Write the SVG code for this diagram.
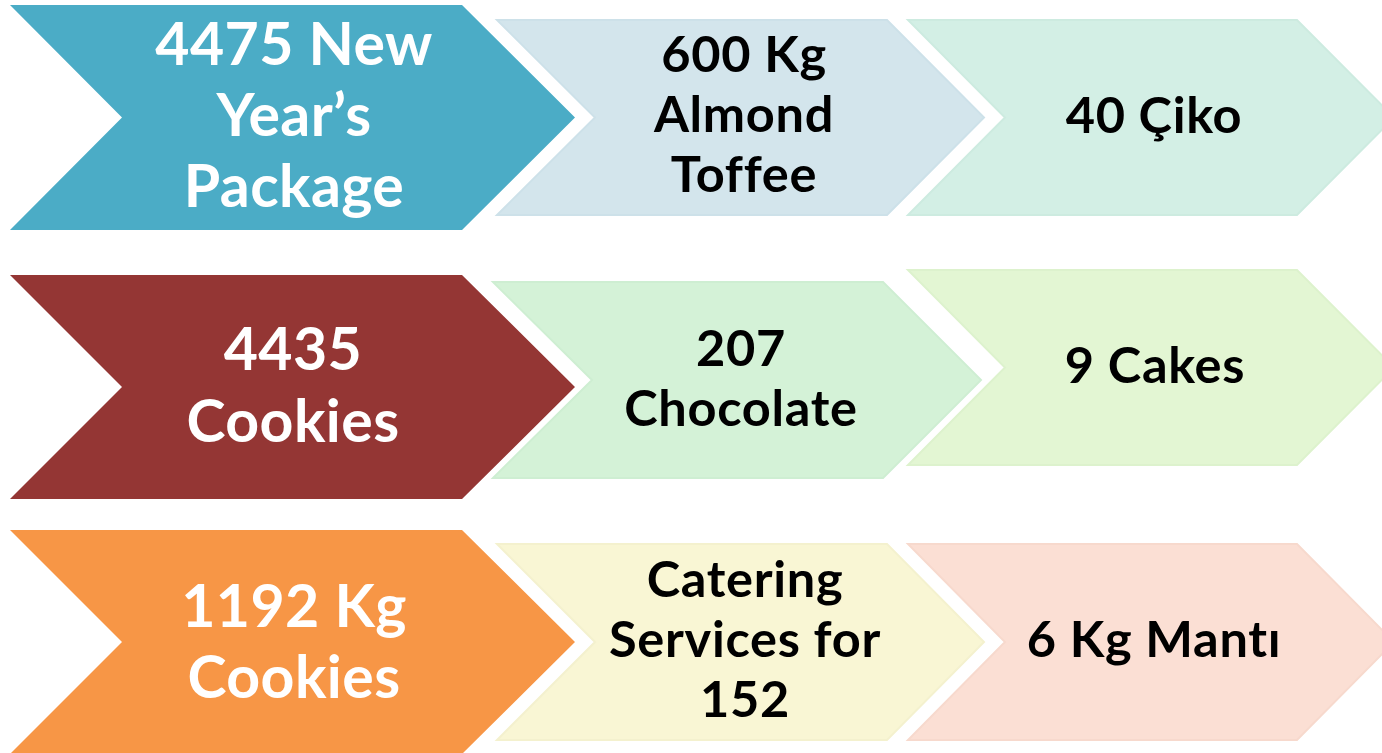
<svg xmlns="http://www.w3.org/2000/svg" width="1382" height="753" viewBox="0 0 1382 753">
<style>
.w{font-family:Lato,"Open Sans","Liberation Sans",sans-serif;font-weight:bold;font-size:59px;letter-spacing:0.4px;fill:#ffffff;text-anchor:middle}
.b{font-family:Lato,"Open Sans","Liberation Sans",sans-serif;font-weight:bold;font-size:50.5px;letter-spacing:0.7px;fill:#000000;text-anchor:middle}
.lt{stroke-width:2;stroke-linejoin:miter}
</style>
<rect width="1382" height="753" fill="#ffffff"/>
<g id="connectors"/>
<g id="n1a"><polygon points="10,5 462,5 575,117.5 462,230 10,230 122,117.5" fill="#4BACC6"/>
<text class="w" x="294" y="65">4475 New</text><text class="w" x="294" y="136">Year’s</text><text class="w" x="294" y="207">Package</text></g>
<g id="n1b"><polygon class="lt" points="497,20 887,20 984,117.5 887,215 497,215 595,117.5" fill="#D3E5EC" stroke="#CDE1E9"/>
<text class="b" x="744" y="72">600 Kg</text><text class="b" x="744" y="132">Almond</text><text class="b" x="744" y="192">Toffee</text></g>
<g id="n1c"><polygon class="lt" points="908,20 1297,20 1394,117.5 1297,215 908,215 1005,117.5" fill="#D3EFE5" stroke="#CDEBE0"/>
<text class="b" x="1154" y="133">40 Çiko</text></g>
<g id="n2a"><polygon points="10,275 462,275 575,387 462,499 10,499 122,387" fill="#943634"/>
<text class="w" x="293" y="370">4435</text><text class="w" x="293" y="442">Cookies</text></g>
<g id="n2b"><polygon class="lt" points="493,282 883,282 981,380 883,478 493,478 592,380" fill="#D4F2D7" stroke="#CEEED2"/>
<text class="b" x="741" y="366">207</text><text class="b" x="741" y="426">Chocolate</text></g>
<g id="n2c"><polygon class="lt" points="908,270 1297,270 1394,367.5 1297,465 908,465 1005,367.5" fill="#E3F6D3" stroke="#DDF2CD"/>
<text class="b" x="1155" y="383">9 Cakes</text></g>
<g id="n3a"><polygon points="10,530 462,530 575,642 462,754 10,754 122,642" fill="#F79646"/>
<text class="w" x="294" y="627">1192 Kg</text><text class="w" x="294" y="698">Cookies</text></g>
<g id="n3b"><polygon class="lt" points="497,544 887,544 984,642 887,740 497,740 595,642" fill="#F9F6D4" stroke="#F4F1CE"/>
<text class="b" x="745" y="597">Catering</text><text class="b" x="745" y="657">Services for</text><text class="b" x="745" y="717">152</text></g>
<g id="n3c"><polygon class="lt" points="908,544 1297,544 1394,642 1297,740 908,740 1005,642" fill="#FBDFD4" stroke="#F7D9CD"/>
<text class="b" x="1154" y="657">6 Kg Mantı</text></g>
</svg>
